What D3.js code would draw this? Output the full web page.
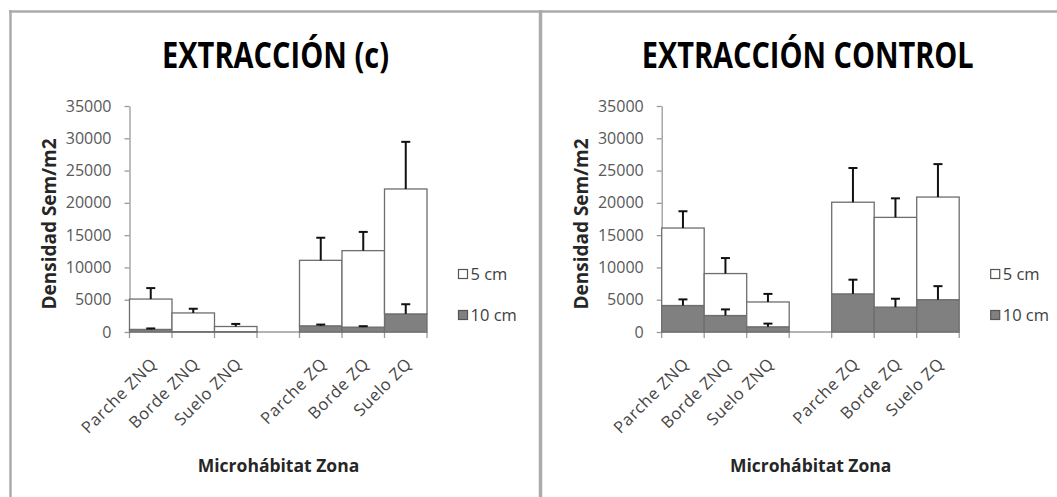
<!DOCTYPE html>
<html>
<head>
<meta charset="utf-8">
<script src="https://cdn.jsdelivr.net/npm/d3@7"></script>
<style>
  body { margin: 0; background: #fff; }
  svg { display: block; }
</style>
</head>
<body>
<div id="chart"></div>
<script>
// categories on the x axis, "" is the empty slot between the two zones
const categories = ["Parche ZNQ", "Borde ZNQ", "Suelo ZNQ", "", "Parche ZQ", "Borde ZQ", "Suelo ZQ"];
const seriesNames = ["5 cm", "10 cm"];
const yTicks = [0, 5000, 10000, 15000, 20000, 25000, 30000, 35000];

// EXTRACCIÓN (c)  (null = empty slot)
const extC_10cm    = [400, 50, 50, null, 950, 750, 2800];
const extC_10cmErr = [150, 0, 0, null, 200, 150, 1500];
const extC_5cm     = [4700, 2900, 800, null, 10150, 11850, 19350];
const extC_5cmErr  = [1700, 650, 400, null, 3500, 2900, 7300];

// EXTRACCIÓN CONTROL
const ctrl_10cm    = [4100, 2550, 800, null, 5900, 3850, 5000];
const ctrl_10cmErr = [950, 950, 500, null, 2200, 1300, 2100];
const ctrl_5cm     = [12000, 6500, 3850, null, 14200, 13900, 15900];
const ctrl_5cmErr  = [2600, 2400, 1250, null, 5300, 2950, 5100];

const W = 1057, H = 497;
const font = "'Open Sans', 'Liberation Sans', sans-serif";

const svg = d3.select("#chart").append("svg")
  .attr("width", W)
  .attr("height", H);

// frames of the two panels
const frame = svg.append("g").attr("stroke", "#ababab").attr("fill", "none");
frame.append("line").attr("x1", 9).attr("x2", W).attr("y1", 11.5).attr("y2", 11.5).attr("stroke-width", 2.5);
frame.append("line").attr("x1", 10.5).attr("x2", 10.5).attr("y1", 10).attr("y2", H).attr("stroke-width", 2.5);
frame.append("line").attr("x1", 540.5).attr("x2", 540.5).attr("y1", 10).attr("y2", H).attr("stroke-width", 3.5);

function drawPanel(opt) {
  const plotW = 297.5, plotH = 226;
  const g = svg.append("g").attr("transform", `translate(${opt.left},106)`);

  const x = d3.scaleBand().domain(categories).range([0, plotW]).padding(0);
  const y = d3.scaleLinear().domain([0, 35000]).range([plotH, 0]);

  const rows = categories.map((c, i) => ({
    cat: c, c10: opt.v10[i], c5: opt.v5[i], e10: opt.e10[i], e5: opt.e5[i]
  })).filter(d => d.cat !== "");

  // y axis
  const ya = g.append("g")
    .call(d3.axisLeft(y).tickValues(yTicks).tickFormat(d3.format("d"))
      .tickSize(5).tickSizeOuter(0).tickPadding(13));
  ya.select(".domain").attr("stroke", "#9a9a9a").attr("stroke-width", 1.3);
  ya.selectAll(".tick line").attr("stroke", "#9a9a9a").attr("stroke-width", 1.3);
  ya.selectAll(".tick text")
    .attr("fill", "#595959")
    .style("font-family", font)
    .style("font-size", "16px");

  // x axis: line + boundary ticks
  const xa = g.append("g").attr("transform", `translate(0,${plotH})`);
  xa.append("line").attr("x1", 0).attr("x2", plotW).attr("stroke", "#9a9a9a").attr("stroke-width", 1.3);
  const bounds = categories.map(c => x(c)).concat([x(categories[categories.length - 1]) + x.bandwidth()]);
  xa.selectAll("line.tk").data(bounds).join("line")
    .attr("class", "tk")
    .attr("x1", d => d).attr("x2", d => d)
    .attr("y1", 0).attr("y2", 6)
    .attr("stroke", "#9a9a9a").attr("stroke-width", 1.3);

  const xl = g.append("g").attr("transform", `translate(0,${plotH})`)
    .call(d3.axisBottom(x).tickSize(0).tickPadding(0));
  xl.select(".domain").remove();
  xl.selectAll(".tick text")
    .attr("x", 0).attr("y", 0).attr("dy", 0)
    .attr("transform", "translate(7,33) rotate(-45)")
    .style("text-anchor", "end")
    .attr("fill", "#454545")
    .style("font-family", font)
    .style("font-size", "16.5px")
    .style("letter-spacing", "0.6px");

  // stacked bars
  const stack = d3.stack().keys(["c10", "c5"]);
  const layers = stack(rows);
  const fills = { c10: "#808080", c5: "#ffffff" };

  g.append("g").selectAll("g")
    .data(layers)
    .join("g")
      .attr("fill", d => fills[d.key])
      .attr("stroke", "#6e6e6e")
      .attr("stroke-width", 1.3)
    .selectAll("rect")
    .data(d => d)
    .join("rect")
      .attr("x", d => x(d.data.cat))
      .attr("width", x.bandwidth())
      .attr("y", d => y(d[1]))
      .attr("height", d => y(d[0]) - y(d[1]));

  // error bars (plus direction)
  const errs = [];
  layers.forEach(layer => {
    const ek = layer.key === "c10" ? "e10" : "e5";
    layer.forEach(d => {
      if (d.data[ek] > 0) errs.push({ cat: d.data.cat, top: d[1], err: d.data[ek] });
    });
  });
  const eg = g.append("g").attr("stroke", "#111").attr("stroke-width", 2);
  eg.selectAll("line.v").data(errs).join("line")
    .attr("class", "v")
    .attr("x1", d => x(d.cat) + x.bandwidth() / 2)
    .attr("x2", d => x(d.cat) + x.bandwidth() / 2)
    .attr("y1", d => y(d.top))
    .attr("y2", d => y(d.top + d.err));
  eg.selectAll("line.c").data(errs).join("line")
    .attr("class", "c")
    .attr("x1", d => x(d.cat) + x.bandwidth() / 2 - 4.5)
    .attr("x2", d => x(d.cat) + x.bandwidth() / 2 + 4.5)
    .attr("y1", d => y(d.top + d.err))
    .attr("y2", d => y(d.top + d.err));

  // title
  svg.append("text")
    .attr("x", opt.left + opt.titleDx)
    .attr("y", 67.5)
    .attr("text-anchor", "middle")
    .attr("textLength", opt.titleLen)
    .attr("lengthAdjust", "spacingAndGlyphs")
    .style("font-family", font)
    .style("font-weight", "bold")
    .style("font-size", "36px")
    .attr("fill", "#000")
    .text(opt.title);

  // y title
  svg.append("text")
    .attr("transform", `translate(${opt.left - 73.5},224) rotate(-90)`)
    .attr("text-anchor", "middle")
    .style("font-family", font)
    .style("font-weight", "bold")
    .style("font-size", "19px")
    .attr("fill", "#262626")
    .text("Densidad Sem/m2");

  // x title
  svg.append("text")
    .attr("x", opt.left + 149)
    .attr("y", 472)
    .attr("text-anchor", "middle")
    .style("font-family", font)
    .style("font-weight", "bold")
    .style("font-size", "17.5px")
    .attr("fill", "#262626")
    .text("Microhábitat Zona");

  // legend
  const lg = svg.append("g").attr("transform", `translate(${opt.left + 329},0)`);
  const items = [{ name: seriesNames[0], fill: fills.c5, cy: 274 }, { name: seriesNames[1], fill: fills.c10, cy: 315 }];
  const li = lg.selectAll("g").data(items).join("g")
    .attr("transform", d => `translate(0,${d.cy})`);
  li.append("rect")
    .attr("x", 0).attr("y", -4.5).attr("width", 9).attr("height", 9)
    .attr("fill", d => d.fill)
    .attr("stroke", "#555").attr("stroke-width", 1.2);
  li.append("text")
    .attr("x", 12).attr("y", 0).attr("dy", "0.36em")
    .style("font-family", font)
    .style("font-size", "16.5px")
    .attr("fill", "#404040")
    .text(d => d.name);
}

drawPanel({
  left: 129.5, title: "EXTRACCIÓN (c)", titleDx: 146, titleLen: 227,
  v10: extC_10cm, e10: extC_10cmErr, v5: extC_5cm, e5: extC_5cmErr
});
drawPanel({
  left: 661.7, title: "EXTRACCIÓN CONTROL", titleDx: 146, titleLen: 332,
  v10: ctrl_10cm, e10: ctrl_10cmErr, v5: ctrl_5cm, e5: ctrl_5cmErr
});
</script>
</body>
</html>
